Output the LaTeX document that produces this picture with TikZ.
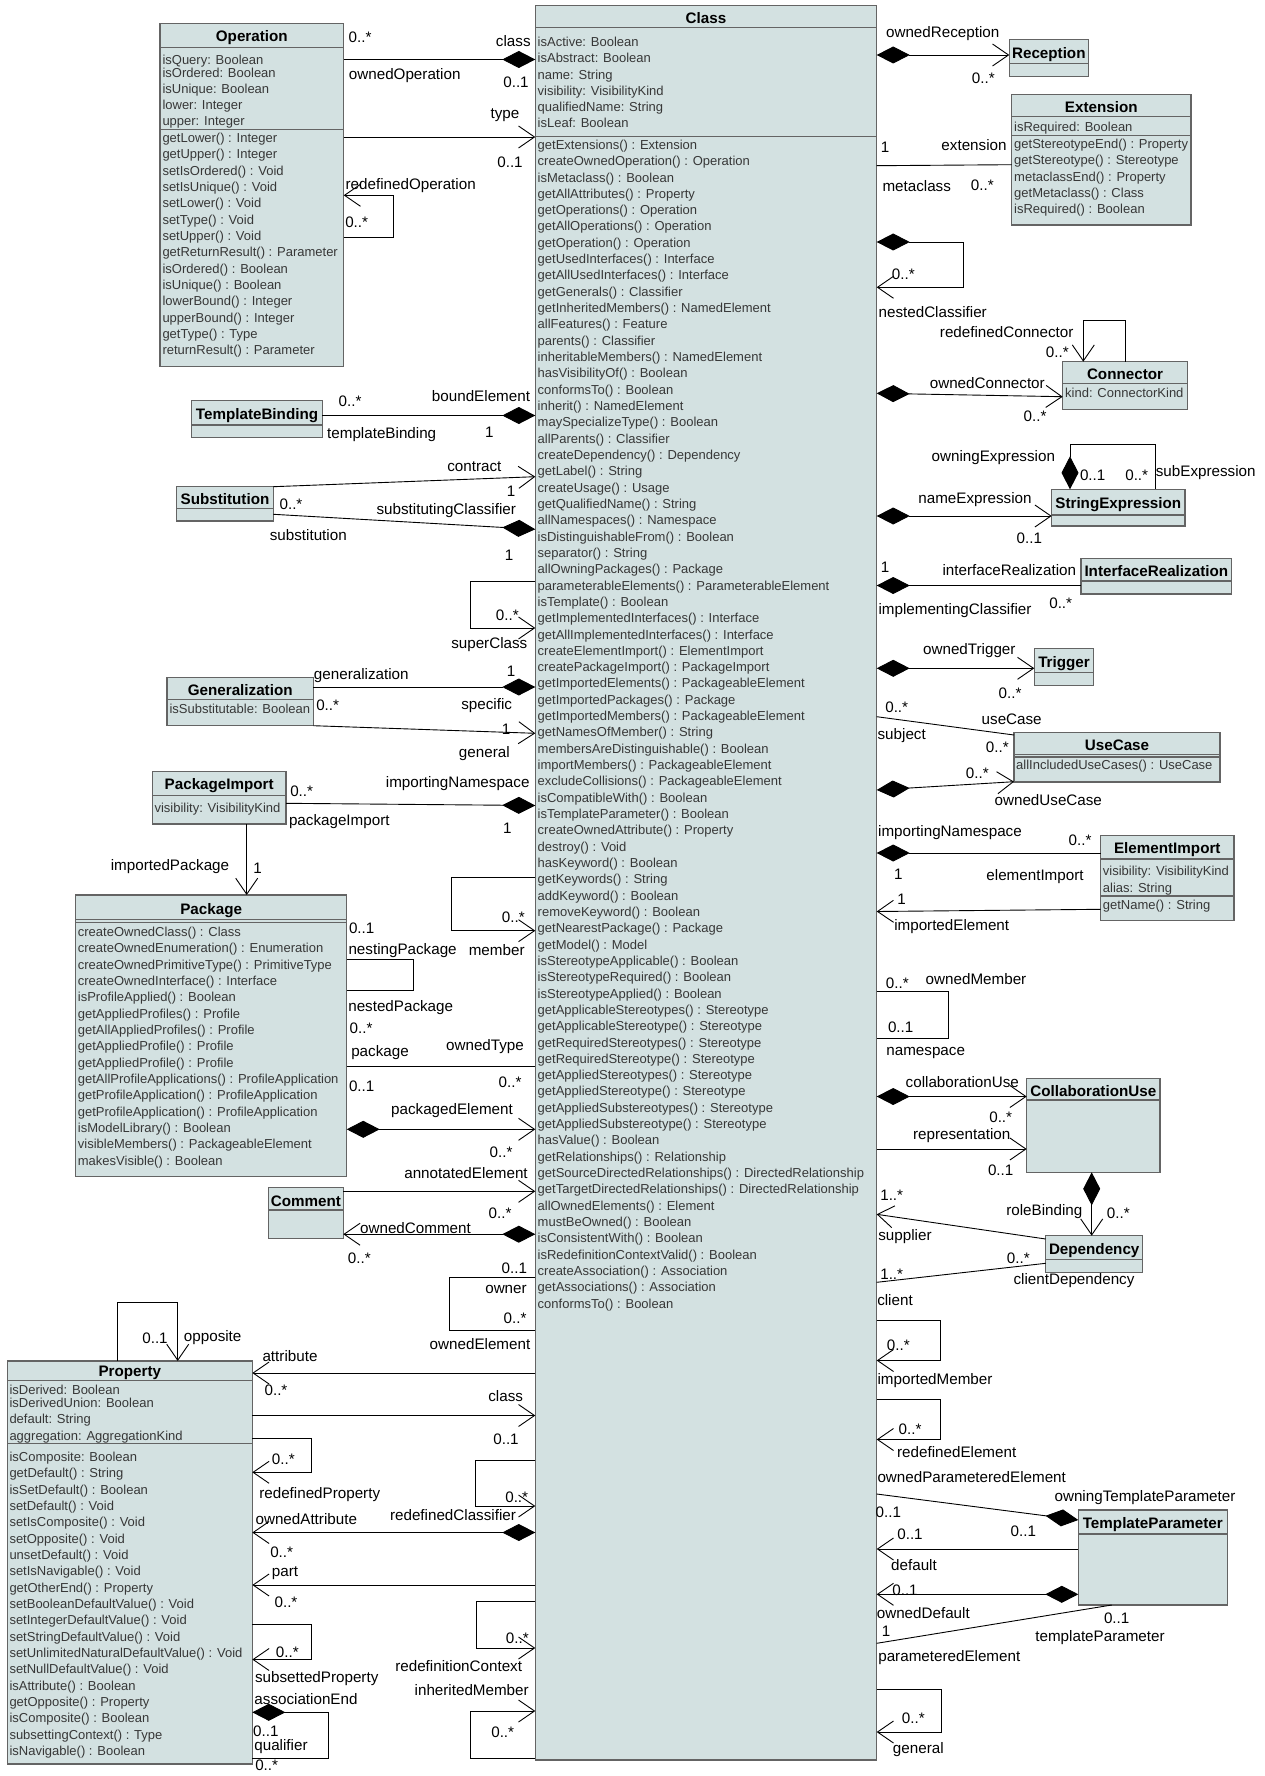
\documentclass[tikz,border=0pt]{standalone}
\usepackage{fontspec}
\setmainfont{Liberation Sans}
\usetikzlibrary{arrows.meta}
\definecolor{fillc}{RGB}{211,225,225}
\definecolor{boxc}{RGB}{100,100,100}
\definecolor{txtc}{RGB}{55,55,55}
\newcommand\blines[5]{\foreach \txt [count=\i] in {#5} {\node[attr] (#1\i) at (#2,{#3+(\i-1)*#4}) {\ignorespaces\txt};}}
\tikzset{
 box/.style={draw=boxc, fill=fillc, line width=1.5pt, inner sep=0pt, outer sep=0pt, anchor=north west},
 div/.style={draw=boxc, line width=1.5pt},
 ttl/.style={font=\fontsize{15.2}{18}\selectfont\bfseries, inner sep=0pt, text=black, yshift=-1.5pt},
 attr/.style={font=\fontsize{13}{15}\selectfont, inner sep=0pt, anchor=base west, text=txtc},
 lbl/.style={font=\fontsize{15.2}{18}\selectfont, inner sep=0pt, text=black, yshift=-2pt},
 con/.style={draw=black, line width=0.9pt},
 CD/.tip={Diamond[length=33pt,width=17pt]},
 OA/.tip={Straight Barb[length=16pt,width=22pt]},
}
\begin{document}
\begin{tikzpicture}[x=1pt,y=-1pt]
\useasboundingbox (0,0) rectangle (1264,1776);
\fill[white] (0,0) rectangle (1264,1776);
% ---------- boxes ----------
\node[box, minimum width=341.4pt, minimum height=1754.3pt] (cls) at (535.3,5.7) {};
\node[box, minimum width=183.7pt, minimum height=343.4pt] (op) at (160,23.3) {};
\node[box, minimum width=79pt, minimum height=37.4pt] (recep) at (1009.3,39.3) {};
\node[box, minimum width=179.3pt, minimum height=130.7pt] (ext) at (1011.7,94.3) {};
\node[box, minimum width=124.6pt, minimum height=47.6pt] (conn) at (1062.7,361.7) {};
\node[box, minimum width=133.3pt, minimum height=36.7pt] (strexp) at (1051.7,489.3) {};
\node[box, minimum width=150.7pt, minimum height=35.7pt] (ireal) at (1081,558.3) {};
\node[box, minimum width=59pt, minimum height=37.4pt] (trig) at (1034.3,648.3) {};
\node[box, minimum width=206pt, minimum height=49.7pt] (uc) at (1014,732.3) {};
\node[box, minimum width=133.3pt, minimum height=85pt] (ei) at (1100.7,835.7) {};
\node[box, minimum width=133.3pt, minimum height=94pt] (cu) at (1026.7,1078.3) {};
\node[box, minimum width=97pt, minimum height=37pt] (dep) at (1045.7,1235.7) {};
\node[box, minimum width=149pt, minimum height=95pt] (tp) at (1078.3,1510) {};
\node[box, minimum width=130.6pt, minimum height=37pt] (tb) at (191.7,400.7) {};
\node[box, minimum width=96.6pt, minimum height=34.3pt] (subst) at (176.7,486.7) {};
\node[box, minimum width=146.3pt, minimum height=48pt] (gen) at (167,677.7) {};
\node[box, minimum width=133.7pt, minimum height=52.7pt] (pi) at (152.3,771.3) {};
\node[box, minimum width=271pt, minimum height=281.7pt] (pkg) at (75.7,895) {};
\node[box, minimum width=74.6pt, minimum height=50.6pt] (cmt) at (268.7,1187.7) {};
\node[box, minimum width=245pt, minimum height=403pt] (prop) at (7.3,1361) {};
% ---------- dividers ----------
\draw[div] (535.3,27.7) -- (876.7,27.7);
\draw[div] (535.3,136.7) -- (876.7,136.7);
\draw[div] (160,47.7) -- (343.7,47.7);
\draw[div] (160,129.7) -- (343.7,129.7);
\draw[div] (1009.3,63.3) -- (1088.3,63.3);
\draw[div] (1011.7,116.3) -- (1191,116.3);
\draw[div] (1011.7,135.7) -- (1191,135.7);
\draw[div] (1062.7,383.3) -- (1187.3,383.3);
\draw[div] (1051.7,515) -- (1185,515);
\draw[div] (1081,581) -- (1231.7,581);
\draw[div] (1034.3,672.7) -- (1093.3,672.7);
\draw[div] (1014,754.3) -- (1220,754.3);
\draw[div] (1014,757) -- (1220,757);
\draw[div] (1100.7,859) -- (1234,859);
\draw[div] (1100.7,896) -- (1234,896);
\draw[div] (1026.7,1100) -- (1160,1100);
\draw[div] (1045.7,1259.3) -- (1142.7,1259.3);
\draw[div] (1078.3,1534) -- (1227.3,1534);
\draw[div] (191.7,425) -- (322.3,425);
\draw[div] (176.7,508.3) -- (273.3,508.3);
\draw[div] (167,699.3) -- (313.3,699.3);
\draw[div] (152.3,795.3) -- (286,795.3);
\draw[div] (75.7,919.3) -- (346.7,919.3);
\draw[div] (75.7,922.7) -- (346.7,922.7);
\draw[div] (268.7,1210) -- (343.3,1210);
\draw[div] (7.3,1380.3) -- (252.3,1380.3);
\draw[div] (7.3,1443.3) -- (252.3,1443.3);
% ---------- titles ----------
\node[ttl] (clsT) at (706,16.7) {Class};
\node[ttl] (opT) at (251.8,36.5) {Operation};
\node[ttl] (recepT) at (1048.8,52.7) {Reception};
\node[ttl] (extT) at (1101.3,106) {Extension};
\node[ttl] (connT) at (1125,372.7) {Connector};
\node[ttl] (strexpT) at (1118.3,503.3) {StringExpression};
\node[ttl] (irealT) at (1156.3,569.3) {InterfaceRealization};
\node[ttl] (trigT) at (1064,661.7) {Trigger};
\node[ttl] (ucT) at (1117,743.3) {UseCase};
\node[ttl] (eiT) at (1167.3,848.3) {ElementImport};
\node[ttl] (cuT) at (1093.3,1089.3) {CollaborationUse};
\node[ttl] (depT) at (1094.2,1248.7) {Dependency};
\node[ttl] (tpT) at (1152.8,1522.7) {TemplateParameter};
\node[ttl] (tbT) at (257,414) {TemplateBinding};
\node[ttl] (substT) at (225,497.7) {Substitution};
\node[ttl] (genT) at (240.2,688.7) {Generalization};
\node[ttl] (piT) at (219.2,784.3) {PackageImport};
\node[ttl] (pkgT) at (211.2,909) {Package};
\node[ttl] (cmtT) at (306,1200) {Comment};
\node[ttl] (propT) at (129.8,1371.7) {Property};
% ---------- compartment texts ----------
\blines{clsA}{537.5}{46.4}{16.32}{isActive: Boolean,isAbstract: Boolean,name: String,visibility: VisibilityKind,qualifiedName: String,isLeaf: Boolean}
\blines{clsO}{537.5}{149.4}{16.32}{getExtensions() : Extension,createOwnedOperation() : Operation,isMetaclass() : Boolean,getAllAttributes() : Property,getOperations() : Operation,getAllOperations() : Operation,getOperation() : Operation,getUsedInterfaces() : Interface,getAllUsedInterfaces() : Interface,getGenerals() : Classifier,getInheritedMembers() : NamedElement,allFeatures() : Feature,parents() : Classifier,inheritableMembers() : NamedElement,hasVisibilityOf() : Boolean,conformsTo() : Boolean,inherit() : NamedElement,maySpecializeType() : Boolean,allParents() : Classifier,createDependency() : Dependency,getLabel() : String,createUsage() : Usage,getQualifiedName() : String,allNamespaces() : Namespace,isDistinguishableFrom() : Boolean,separator() : String,allOwningPackages() : Package,parameterableElements() : ParameterableElement,isTemplate() : Boolean,getImplementedInterfaces() : Interface,getAllImplementedInterfaces() : Interface,createElementImport() : ElementImport,createPackageImport() : PackageImport,getImportedElements() : PackageableElement,getImportedPackages() : Package,getImportedMembers() : PackageableElement,getNamesOfMember() : String,membersAreDistinguishable() : Boolean,importMembers() : PackageableElement,excludeCollisions() : PackageableElement,isCompatibleWith() : Boolean,isTemplateParameter() : Boolean,createOwnedAttribute() : Property,destroy() : Void,hasKeyword() : Boolean,getKeywords() : String,addKeyword() : Boolean,removeKeyword() : Boolean,getNearestPackage() : Package,getModel() : Model,isStereotypeApplicable() : Boolean,isStereotypeRequired() : Boolean,isStereotypeApplied() : Boolean,getApplicableStereotypes() : Stereotype,getApplicableStereotype() : Stereotype,getRequiredStereotypes() : Stereotype,getRequiredStereotype() : Stereotype,getAppliedStereotypes() : Stereotype,getAppliedStereotype() : Stereotype,getAppliedSubstereotypes() : Stereotype,getAppliedSubstereotype() : Stereotype,hasValue() : Boolean,getRelationships() : Relationship,getSourceDirectedRelationships() : DirectedRelationship,getTargetDirectedRelationships() : DirectedRelationship,allOwnedElements() : Element,mustBeOwned() : Boolean,isConsistentWith() : Boolean,isRedefinitionContextValid() : Boolean,createAssociation() : Association,getAssociations() : Association,conformsTo() : Boolean}
\node[attr] (opA0) at (162.3,64.7) {isQuery: Boolean};
\blines{opA}{162.3}{77.4}{16}{isOrdered: Boolean,isUnique: Boolean,lower: Integer,upper: Integer}
\blines{opO}{162.3}{142.4}{16.35}{getLower() : Integer,getUpper() : Integer,setIsOrdered() : Void,setIsUnique() : Void,setLower() : Void,setType() : Void,setUpper() : Void,getReturnResult() : Parameter,isOrdered() : Boolean,isUnique() : Boolean,lowerBound() : Integer,upperBound() : Integer,getType() : Type,returnResult() : Parameter}
\node[attr] (extA1) at (1014,131.4) {isRequired: Boolean};
\blines{extO}{1014}{148.7}{16.17}{getStereotypeEnd() : Property,getStereotype() : Stereotype,metaclassEnd() : Property,getMetaclass() : Class,isRequired() : Boolean}
\node[attr] (connA1) at (1065,397.4) {kind: ConnectorKind};
\node[attr] (genA1) at (169.3,713) {isSubstitutable: Boolean};
\node[attr] (piA1) at (154.3,812.4) {visibility: VisibilityKind};
\node[attr] (ucO1) at (1016,769.7) {allIncludedUseCases() : UseCase};
\node[attr] (eiA1) at (1102.7,875.7) {visibility: VisibilityKind};
\node[attr] (eiA2) at (1102.7,892) {alias: String};
\node[attr] (eiO1) at (1102.7,909.7) {getName() : String};
\blines{pkgO}{77.7}{936.4}{16.33}{createOwnedClass() : Class,createOwnedEnumeration() : Enumeration,createOwnedPrimitiveType() : PrimitiveType,createOwnedInterface() : Interface,isProfileApplied() : Boolean,getAppliedProfiles() : Profile,getAllAppliedProfiles() : Profile,getAppliedProfile() : Profile,getAppliedProfile() : Profile,getAllProfileApplications() : ProfileApplication,getProfileApplication() : ProfileApplication,getProfileApplication() : ProfileApplication,isModelLibrary() : Boolean,visibleMembers() : PackageableElement,makesVisible() : Boolean}
\node[attr] (propA0) at (9.3,1394.7) {isDerived: Boolean};
\blines{propA}{9.3}{1407.4}{16.5}{isDerivedUnion: Boolean,default: String,aggregation: AggregationKind}
\blines{propO}{9.3}{1461.4}{16.33}{isComposite: Boolean,getDefault() : String,isSetDefault() : Boolean,setDefault() : Void,setIsComposite() : Void,setOpposite() : Void,unsetDefault() : Void,setIsNavigable() : Void,getOtherEnd() : Property,setBooleanDefaultValue() : Void,setIntegerDefaultValue() : Void,setStringDefaultValue() : Void,setUnlimitedNaturalDefaultValue() : Void,setNullDefaultValue() : Void,isAttribute() : Boolean,getOpposite() : Property,isComposite() : Boolean,subsettingContext() : Type,isNavigable() : Boolean}
% ---------- connectors: left ----------
\draw[con, CD-] (cls.west |- 0,59.5) -- (op.east |- 0,59.5);
\draw[con, -OA] (op.east |- 0,137) -- (cls.west |- 0,137);
\draw[con, -OA] (op.east |- 0,237.7) -- (393.3,237.7) |- (op.east |- 0,195.3);
\draw[con, CD-] (cls.west |- 0,415.5) -- (tb.east |- 0,415.5);
\draw[con, -OA] (subst.north east) -- (cls.west |- 0,476.7);
\draw[con, CD-] (cls.west |- 0,529.3) -- (subst.east |- 0,514.3);
\draw[con, -OA] (cls.west |- 0,581.7) -- (470.7,581.7) |- (cls.west |- 0,628);
\draw[con, CD-] (cls.west |- 0,687) -- (gen.east |- 0,687);
\draw[con, -OA] (gen.south east) -- (cls.west |- 0,733.3);
\draw[con, CD-] (cls.west |- 0,805.5) -- (pi.east |- 0,803.3);
\draw[con, -OA] (pi.south -| 246.7,0) -- (pkg.north -| 246.7,0);
\draw[con, -OA] (cls.west |- 0,877) -- (451,877) |- (cls.west |- 0,930.7);
\draw[con] (pkg.east |- 0,959) -- (413.3,959) |- (pkg.east |- 0,990.7);
\draw[con] (pkg.east |- 0,1066.2) -- (cls.west |- 0,1066.2);
\draw[con, CD-OA] (pkg.east |- 0,1129.3) -- (cls.west |- 0,1129.3);
\draw[con, -OA] (cmt.east |- 0,1191.3) -- (cls.west |- 0,1191.3);
\draw[con, CD-OA] (cls.west |- 0,1234.2) -- (cmt.east |- 0,1234.2);
\draw[con] (cls.west |- 0,1277.3) -- (449.3,1277.3) |- (cls.west |- 0,1330);
\draw[con, -OA] (prop.north -| 117.3,0) -- (117.3,1302.5) -| (prop.north -| 177.7,0);
\draw[con, -OA] (cls.west |- 0,1373) -- (prop.east |- 0,1373);
\draw[con, -OA] (prop.east |- 0,1415.5) -- (cls.west |- 0,1415.5);
\draw[con, -OA] (prop.east |- 0,1438.3) -- (311,1438.3) |- (prop.east |- 0,1472.3);
\draw[con, -OA] (cls.west |- 0,1460) -- (475.3,1460) |- (cls.west |- 0,1506);
\draw[con, CD-OA] (cls.west |- 0,1532.5) -- (prop.east |- 0,1532.5);
\draw[con, -OA] (cls.west |- 0,1585) -- (prop.east |- 0,1585);
\draw[con, -OA] (cls.west |- 0,1601.7) -- (476.7,1601.7) |- (cls.west |- 0,1648);
\draw[con, -OA] (prop.east |- 0,1624) -- (311,1624) |- (prop.east |- 0,1659.5);
\draw[con, CD-] (prop.east |- 0,1712.3) -- (328.3,1712.3) |- (prop.east |- 0,1758.3);
\draw[con, -OA] (cls.west |- 0,1758.3) -- (470,1758.3) |- (cls.west |- 0,1711);
% ---------- connectors: right ----------
\draw[con, CD-OA] (cls.east |- 0,55) -- (recep.west |- 0,55);
\draw[con] (cls.east |- 0,165.7) -- (ext.west |- 0,164.7);
\draw[con, CD-OA] (cls.east |- 0,242) -- (963.3,242) |- (cls.east |- 0,287.3);
\draw[con, -OA] (conn.north -| 1125.3,0) -- (1125.3,320.7) -| (conn.north -| 1083.3,0);
\draw[con, CD-OA] (cls.east |- 0,393.3) -- (conn.west |- 0,396.7);
\draw[con, CD-] (strexp.north -| 1070,0) -- (1070,444) -| (strexp.north -| 1155.7,0);
\draw[con, CD-OA] (cls.east |- 0,516) -- (strexp.west |- 0,516);
\draw[con, CD-] (cls.east |- 0,585.5) -- (ireal.west |- 0,585.5);
\draw[con, CD-OA] (cls.east |- 0,668.3) -- (trig.west |- 0,668.3);
\draw[con] (cls.east |- 0,716.7) -- (uc.west |- 0,735);
\draw[con, CD-OA] (cls.east |- 0,790) -- (uc.west |- 0,781.7);
\draw[con, CD-] (cls.east |- 0,853) -- (ei.west |- 0,853);
\draw[con, -OA] (ei.west |- 0,909.3) -- (cls.east |- 0,911.5);
\draw[con] (cls.east |- 0,991.7) -- (948.7,991.7) |- (cls.east |- 0,1038.3);
\draw[con, CD-OA] (cls.east |- 0,1096.5) -- (cu.west |- 0,1096.5);
\draw[con, -OA] (cls.east |- 0,1149) -- (cu.west |- 0,1149);
\draw[con, CD-OA] (cu.south -| 1091.7,0) -- (dep.north -| 1091.7,0);
\draw[con, -OA] (dep.west |- 0,1239) -- (cls.east |- 0,1214.3);
\draw[con] (dep.west |- 0,1263.3) -- (cls.east |- 0,1282.3);
\draw[con, -OA] (cls.east |- 0,1320) -- (940,1320) |- (cls.east |- 0,1360.5);
\draw[con, -OA] (cls.east |- 0,1399) -- (940,1399) |- (cls.east |- 0,1439.5);
\draw[con, CD-] (tp.west |- 0,1520) -- (cls.east |- 0,1494);
\draw[con, -OA] (tp.west |- 0,1549) -- (cls.east |- 0,1549);
\draw[con, CD-OA] (tp.west |- 0,1594.3) -- (cls.east |- 0,1594.3);
\draw[con] (tp.south -| 1111.7,0) -- (cls.east |- 0,1643.3);
\draw[con, -OA] (cls.east |- 0,1689.3) -- (941.7,1689.3) |- (cls.east |- 0,1732);
% ---------- labels ----------
\foreach \x/\y/\labtxt [count=\i] in {
360/35.7/0..*,404.7/73.7/ownedOperation,513.3/39/class,516/80/0..1,505/113.3/type,510/160/0..1,
410.7/183.3/redefinedOperation,356.7/220/0..*,350/399.3/0..*,381.7/432.7/templateBinding,481/394/boundElement,489.3/430/1,
474.3/465/contract,511/489.3/1,291/502.3/0..*,446.3/509/substitutingClassifier,308.3/532.7/substitution,509/553.3/1,
507.3/613.3/0..*,489.3/642.7/superClass,361.3/674/generalization,511/669/1,486.7/704/specific,327.7/703.3/0..*,
506/727.3/1,484.3/751.7/general,301.7/789.3/0..*,457.7/781.7/importingNamespace,339.3/819.3/packageImport,507.3/826/1,
170/865/importedPackage,257.7/866/1,361.7/926.7/0..1,402.6/948.3/nestingPackage,496.7/948.3/member,513.3/915.7/0..*,
400.7/1006/nestedPackage,361/1026.7/0..*,380/1051/package,485/1045/ownedType,361.7/1084/0..1,510/1080/0..*,
452/1109/packagedElement,501/1150.7/0..*,466/1171/annotatedElement,500/1211/0..*,415.5/1225.7/ownedComment,359.3/1256/0..*,
514.3/1266/0..1,506/1287.3/owner,515/1316.7/0..*,480/1341.7/ownedElement,155/1336.7/0..1,212.7/1335.7/opposite,
290/1354/attribute,276/1388.3/0..*,505.7/1394/class,506/1437.7/0..1,283.3/1457.7/0..*,319.7/1492.3/redefinedProperty,
306.3/1516.7/ownedAttribute,281.7/1550/0..*,516.7/1495/0..*,453/1512.7/redefinedClassifier,285/1570.7/part,286/1600/0..*,
287.3/1650/0..*,316.7/1676.7/subsettedProperty,306/1696.7/associationEnd,265.8/1729.3/0..1,281/1744.3/qualifier,266.7/1763/0..*,
517.3/1636.7/0..*,458.7/1664.3/redefinitionContext,471.7/1688.3/inheritedMember,502.7/1730/0..*,
942.7/31.7/ownedReception,983.3/76.7/0..*,885/145/1,974/143.3/extension,916.7/184/metaclass,982.3/183.3/0..*,
903.3/272.3/0..*,932.7/310/nestedClassifier,1006.7/330/redefinedConnector,1057.3/350/0..*,987.3/380.7/ownedConnector,1035/414/0..*,
993.3/455.7/owningExpression,1092.7/473.3/0..1,1136.7/473.3/0..*,1205.7/471/subExpression,975/497.3/nameExpression,1029.3/536.7/0..1,
885/565/1,1009.3/567.7/interfaceRealization,955/609/implementingClassifier,1060.7/601/0..*,969.3/649/ownedTrigger,1010/691.7/0..*,
896.7/705/0..*,901.7/733.3/subject,1011.7/717.7/useCase,997.3/745/0..*,977.3/771.7/0..*,1048.3/797.7/ownedUseCase,
950/830.7/importingNamespace,1080/838.3/0..*,898.3/872.7/1,1035/875/elementImport,901.7/897.3/1,951.7/925/importedElement,
897.3/981/0..*,976/977.3/ownedMember,900.7/1025.7/0..1,925.7/1051/namespace,962.3/1080/collaborationUse,1000.7/1115/0..*,
961.7/1134/representation,1000.7/1168.3/0..1,1044.3/1210/roleBinding,1118.3/1211.7/0..*,891.7/1193.3/1..*,905/1234.3/supplier,
1018.3/1256.7/0..*,1074/1278.3/clientDependency,891.7/1272.7/1..*,895/1297.7/client,898.3/1343.3/0..*,935/1379/importedMember,
910/1427.3/0..*,956.7/1450/redefinedElement,971.7/1475/ownedParameteredElement,888.3/1510.7/0..1,1145/1495.7/owningTemplateParameter,1023.3/1529/0..1,
910/1532.3/0..1,914/1562.7/default,905/1588.3/0..1,923.3/1611/ownedDefault,886/1629.3/1,949.3/1655.7/parameteredElement,
1116.7/1616.7/0..1,1100/1636/templateParameter,913.3/1716.7/0..*,918.3/1747.7/general}
{\node[lbl] (lab\i) at (\x,\y) {\ignorespaces\labtxt};}
\end{tikzpicture}
\end{document}
